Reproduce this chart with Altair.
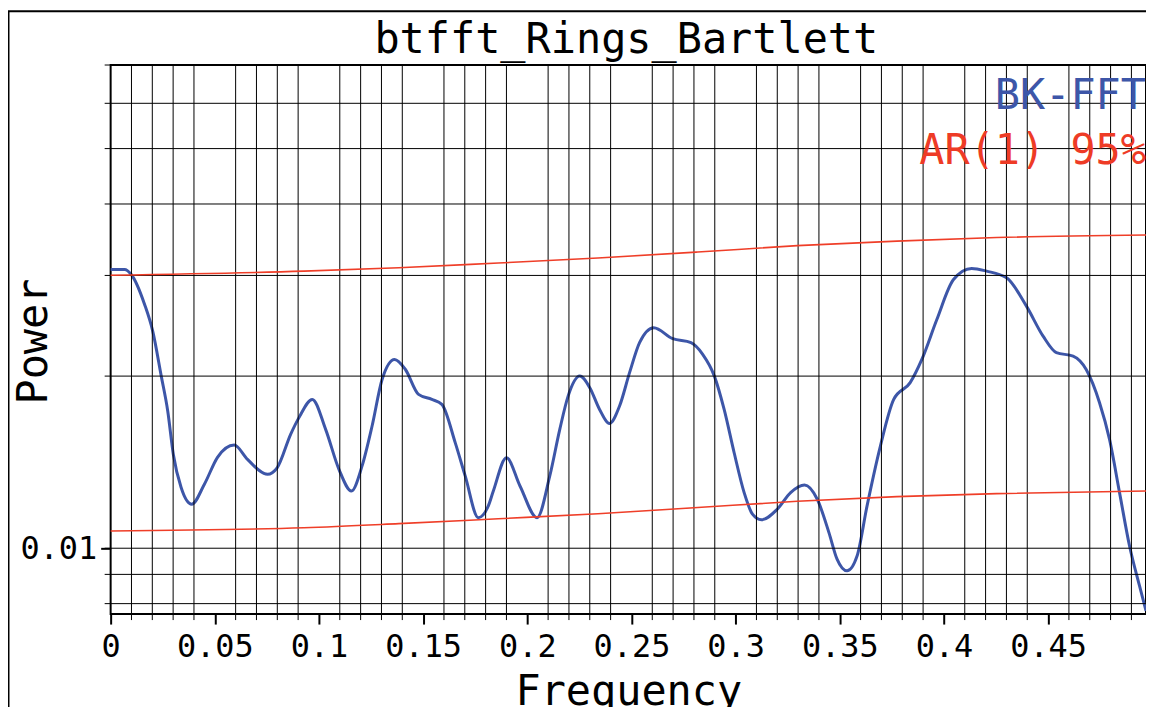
import altair as alt
import pandas as pd

# ---------------- data ----------------
freq_bk = [0, 0.0067, 0.0099, 0.0163, 0.0202, 0.0243, 0.0274, 0.0301, 0.0338, 0.0389,
           0.045, 0.0513, 0.0593, 0.0657, 0.0753, 0.08, 0.0864, 0.0904, 0.0968, 0.1032,
           0.1096, 0.1156, 0.1207, 0.1255, 0.1303, 0.1363, 0.1415, 0.1478, 0.1542, 0.159,
           0.1654, 0.1702, 0.1765, 0.1813, 0.1837, 0.19, 0.1965, 0.2047, 0.2108, 0.2156,
           0.2196, 0.2252, 0.23, 0.2347, 0.2395, 0.2443, 0.2491, 0.2539, 0.2607, 0.2698,
           0.2786, 0.2842, 0.2898, 0.2945, 0.2993, 0.3041, 0.3081, 0.3124, 0.32, 0.3264,
           0.3331, 0.3392, 0.3448, 0.3487, 0.3535, 0.3583, 0.3631, 0.3695, 0.3759, 0.3838,
           0.3894, 0.3966, 0.4046, 0.4133, 0.4205, 0.4301, 0.4396, 0.4476, 0.454, 0.462,
           0.4683, 0.4747, 0.4795, 0.4843, 0.4891, 0.4939, 0.497]
power_bk = [0.03073, 0.03073, 0.03011, 0.02669, 0.02397, 0.0200, 0.01738, 0.01459, 0.01278, 0.01194,
            0.01294, 0.01442, 0.01515, 0.0143, 0.01347, 0.01384, 0.01582, 0.01692, 0.01821, 0.01614,
            0.01374, 0.01259, 0.01393, 0.01636, 0.01973, 0.02139, 0.02054, 0.01858, 0.01821, 0.01785,
            0.0153, 0.01338, 0.01131, 0.01186, 0.01259, 0.0144, 0.01285, 0.01131, 0.01338, 0.01614,
            0.01845, 0.0200, 0.01909, 0.01749, 0.01653, 0.01773, 0.02028, 0.02288, 0.0243, 0.02325,
            0.02288, 0.02183, 0.0200, 0.01749, 0.01469, 0.01251, 0.01147, 0.01121, 0.0117, 0.01251,
            0.0129, 0.01218, 0.01065, 0.00957, 0.00913, 0.00969, 0.01186, 0.01509, 0.01821, 0.01948,
            0.02139, 0.02512, 0.02951, 0.03085, 0.03052, 0.02971, 0.02651, 0.02349, 0.02198, 0.02168,
            0.02054, 0.01797, 0.0155, 0.01251, 0.01009, 0.00859, 0.00777]

freq_ar = [0, 0.0928, 0.1383, 0.1861, 0.2339, 0.2818, 0.3296, 0.3774, 0.4253, 0.497]
ar_upper = [0.03003, 0.03052, 0.03094, 0.03154, 0.03218, 0.03296, 0.03382, 0.03445, 0.03494, 0.03530]
ar_lower = [0.01072, 0.01086, 0.01104, 0.01126, 0.01149, 0.01178, 0.01208, 0.01231, 0.01246, 0.01259]

x_major = [0, 0.05, 0.1, 0.15, 0.2, 0.25, 0.3, 0.35, 0.4, 0.45]
x_minor = [0.01, 0.02, 0.03, 0.04, 0.06, 0.07, 0.08, 0.09, 0.11, 0.12, 0.13, 0.14,
           0.16, 0.17, 0.18, 0.19, 0.21, 0.22, 0.23, 0.24, 0.26, 0.27, 0.28, 0.29,
           0.31, 0.32, 0.33, 0.34, 0.36, 0.37, 0.38, 0.39, 0.41, 0.42, 0.43, 0.44,
           0.46, 0.47, 0.48, 0.49]
y_grid = [0.008, 0.009, 0.01, 0.02, 0.03, 0.04, 0.05, 0.06, 0.07]
y_labels = [0.01]

title_text = "btfft_Rings_Bartlett"
legend_labels = ["BK-FFT", "AR(1) 95%"]
legend_colors = ["#3d56a8", "#ee3b26"]

# ---------------- layout ----------------
W, H = 1039, 551
FONT = "DejaVu Sans Mono"
BLUE = "#3d56a8"
RED = "#ef3e28"

xs = alt.Scale(domain=[0, 0.497], nice=False, zero=False)
ys = alt.Scale(type="log", domain=[0.00767, 0.07], nice=False)

df_bk = pd.DataFrame({"f": freq_bk, "p": power_bk})
df_up = pd.DataFrame({"f": freq_ar, "p": ar_upper})
df_lo = pd.DataFrame({"f": freq_ar, "p": ar_lower})
df_xg = pd.DataFrame({"f": x_minor})
df_yg = pd.DataFrame({"p": y_grid})

bk = alt.Chart(df_bk).mark_line(color=BLUE, strokeWidth=3, interpolate="monotone").encode(
    x=alt.X("f:Q", scale=xs, axis=alt.Axis(
        values=x_major, format="~g", title="Frequency", grid=False, domain=False,
        tickSize=10, tickWidth=2, tickColor="black",
        labelFont=FONT, labelFontSize=32, labelColor="black", labelPadding=33,
        labelBaseline="alphabetic", labelFlush=False, labelOverlap=False,
        titleFont=FONT, titleFontSize=42, titleFontWeight="normal", titleColor="black",
        titleX=W / 2, titleY=91, titleAlign="center", titleBaseline="alphabetic")),
    y=alt.Y("p:Q", scale=ys, axis=alt.Axis(
        values=y_labels, format="~g", title="Power", grid=False, domain=False,
        tickSize=10, tickWidth=2, tickColor="black",
        labelFont=FONT, labelFontSize=32, labelColor="black", labelPadding=4,
        labelBaseline="middle", labelOverlap=False,
        titleFont=FONT, titleFontSize=42, titleFontWeight="normal", titleColor="black",
        titleAngle=270, titleX=-64, titleY=277, titleAlign="center", titleBaseline="alphabetic")))

xgrid = alt.Chart(df_xg).mark_rule(color="black", strokeWidth=1).encode(
    x=alt.X("f:Q", scale=xs),
    y=alt.value(0), y2=alt.value(H + 6))

ygrid = alt.Chart(df_yg).mark_rule(color="black", strokeWidth=1).encode(
    y=alt.Y("p:Q", scale=ys),
    x=alt.value(-6), x2=alt.value(W))

upper = alt.Chart(df_up).mark_line(color=RED, strokeWidth=1.6, interpolate="monotone").encode(
    x=alt.X("f:Q", scale=xs), y=alt.Y("p:Q", scale=ys))
lower = alt.Chart(df_lo).mark_line(color=RED, strokeWidth=1.6, interpolate="monotone").encode(
    x=alt.X("f:Q", scale=xs), y=alt.Y("p:Q", scale=ys))

legend_y = [44, 99]
legend_layers = [
    alt.Chart(pd.DataFrame({"t": [legend_labels[i]]})).mark_text(
        align="right", baseline="alphabetic", font=FONT, fontSize=42, color=legend_colors[i]
    ).encode(text="t:N", x=alt.value(W), y=alt.value(legend_y[i]))
    for i in range(len(legend_labels))
]

title = alt.Chart(pd.DataFrame({"t": [title_text]})).mark_text(
    align="center", baseline="alphabetic", font=FONT, fontSize=42, color="black"
).encode(text="t:N", x=alt.value(W / 2 - 2), y=alt.value(-12))

# outer figure border (left and top edges; right/bottom lie outside the window)
frame_top = alt.Chart(pd.DataFrame({"a": [0]})).mark_rule(color="black", strokeWidth=2).encode(
    x=alt.value(-103), x2=alt.value(W + 10), y=alt.value(-54))
frame_left = alt.Chart(pd.DataFrame({"a": [0]})).mark_rule(color="black", strokeWidth=2).encode(
    x=alt.value(-102.5), y=alt.value(-54), y2=alt.value(H + 100))

chart = alt.layer(bk, xgrid, ygrid, upper, lower, *legend_layers, title,
                  frame_top, frame_left).properties(
    width=W, height=H,
    autosize=alt.AutoSizeParams(type="none"),
    padding={"left": 103, "top": 56, "right": 0, "bottom": 92},
    background="white",
).configure_view(stroke="black", strokeWidth=2)

chart.save("out.html", embed_options={"renderer": "svg", "actions": False})
